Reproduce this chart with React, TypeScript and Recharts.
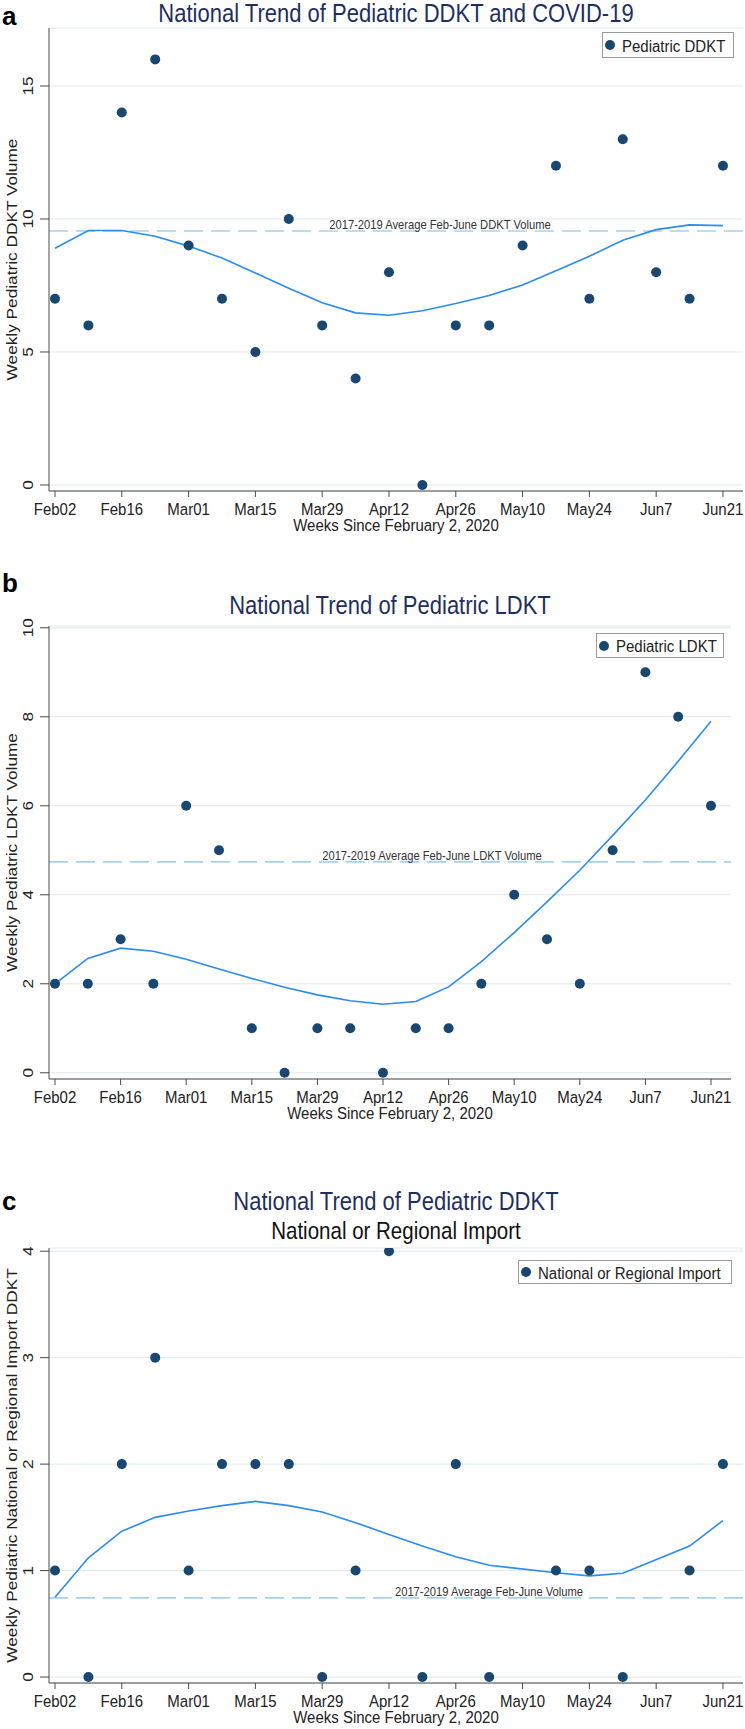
import React from 'react';
import { ComposedChart, Scatter, Line, XAxis, YAxis, CartesianGrid, ReferenceLine } from 'recharts';

const FONT = '"Liberation Sans", Arial, Helvetica, sans-serif';
const NAVY = '#1a476f';
const FIT = '#2a8bf2';
const REF = '#a6d2ea';
const GRID = '#dde8ee';
const AXIS = '#4a4a4a';
const TITLE = '#1e2f5f';
const STRETCH = 1.15;

// weeks since Feb 2, 2020
const weeks = [0, 1, 2, 3, 4, 5, 6, 7, 8, 9, 10, 11, 12, 13, 14, 15, 16, 17, 18, 19, 20];
const xTickWeeks = [0, 2, 4, 6, 8, 10, 12, 14, 16, 18, 20];
const xTickLabels = ['Feb02', 'Feb16', 'Mar01', 'Mar15', 'Mar29', 'Apr12', 'Apr26', 'May10', 'May24', 'Jun7', 'Jun21'];

// Panel a: pediatric DDKT
const ddktObserved = [7, 6, 14, 16, 9, 7, 5, 10, 6, 4, 8, 0, 6, 6, 9, 12, 7, 13, 8, 7, 12];
const ddktFitted = [8.9, 9.57, 9.57, 9.35, 8.98, 8.53, 7.97, 7.4, 6.85, 6.47, 6.38, 6.55, 6.82, 7.12, 7.52, 8.05, 8.6, 9.2, 9.6, 9.78, 9.75];
const ddktAverage = 9.55;
const ddktTicks = [0, 5, 10, 15];

// Panel b: pediatric LDKT
const ldktObserved = [2, 2, 3, 2, 6, 5, 1, 0, 1, 1, 0, 1, 1, 2, 4, 3, 2, 5, 9, 8, 6];
const ldktFitted = [2.0, 2.57, 2.8, 2.73, 2.55, 2.33, 2.12, 1.92, 1.75, 1.62, 1.54, 1.6, 1.93, 2.5, 3.15, 3.84, 4.55, 5.33, 6.13, 7.0, 7.9];
const ldktAverage = 4.74;
const ldktTicks = [0, 2, 4, 6, 8, 10];

// Panel c: national or regional import
const importObserved = [1, 0, 2, 3, 1, 2, 2, 2, 0, 1, 4, 0, 2, 0, null, 1, 1, 0, null, 1, 2];
const importFitted = [0.75, 1.12, 1.37, 1.5, 1.56, 1.61, 1.65, 1.61, 1.55, 1.45, 1.34, 1.23, 1.13, 1.05, null, 0.98, 0.95, 0.975, null, 1.23, 1.47];
const importAverage = 0.744;
const importTicks = [0, 1, 2, 3, 4];

type PanelProps = {
  top: number;
  height: number;
  marginTop: number;
  marginRight: number;
  marginBottom: number;
  xAxisHeight: number;
  xDomain: [number, number];
  yDomain: [number, number];
  yTicks: number[];
  observed: (number | null)[];
  fitted: (number | null)[];
  average: number;
  refLabel: string;
  refLabelX: number;
  yTitle: string;
  legendLabel: string;
  legendBox: { left: number; top: number; width: number; height: number };
};

const Dot = (props: any) => {
  const { cx, cy } = props;
  if (cx == null || cy == null || isNaN(cx) || isNaN(cy)) return null;
  return <circle cx={cx} cy={cy} r={5} fill={NAVY} />;
};

const HText = ({ x, y, size, children, anchor = 'middle', fill = '#222', baseline = 'central' }: any) => (
  <text
    x={0}
    y={0}
    transform={`translate(${x} ${y}) scale(1 ${STRETCH})`}
    textAnchor={anchor}
    dominantBaseline={baseline}
    fontSize={size}
    fill={fill}
    fontFamily={FONT}
  >
    {children}
  </text>
);

const VText = ({ x, y, size, children }: any) => (
  <text
    x={0}
    y={0}
    transform={`translate(${x} ${y}) rotate(-90) scale(${STRETCH} 1)`}
    textAnchor="middle"
    dominantBaseline="central"
    fontSize={size}
    fill="#222"
    fontFamily={FONT}
  >
    {children}
  </text>
);

function Panel(p: PanelProps) {
  const points = weeks
    .map((w, i) => ({ week: w, value: p.observed[i] }))
    .filter((d) => d.value != null);
  const fit = weeks.map((w, i) => ({ week: w, fit: p.fitted[i] }));

  const XTick = (props: any) => {
    const { x, y, payload } = props;
    const idx = xTickWeeks.indexOf(payload.value);
    return <HText x={x} y={y + 12} size={15}>{xTickLabels[idx]}</HText>;
  };
  const YTick = (props: any) => {
    const { y, payload } = props;
    return <VText x={27} y={y} size={15}>{payload.value}</VText>;
  };

  return (
    <div style={{ position: 'absolute', left: 0, top: p.top, width: 745, height: p.height }}>
      <ComposedChart
        width={745}
        height={p.height}
        margin={{ top: p.marginTop, right: p.marginRight, left: 0, bottom: p.marginBottom }}
      >
        <CartesianGrid horizontal vertical={false} stroke={GRID} strokeWidth={1} />
        <XAxis
          type="number"
          dataKey="week"
          domain={p.xDomain}
          allowDataOverflow
          ticks={xTickWeeks}
          height={p.xAxisHeight}
          tickSize={6}
          tickMargin={0}
          axisLine={{ stroke: AXIS }}
          tickLine={{ stroke: AXIS }}
          tick={XTick}
          label={(lp: any) => {
            const vb = lp.viewBox;
            return (
              <HText x={vb.x + vb.width / 2} y={vb.y + 34} size={15}>
                Weeks Since February 2, 2020
              </HText>
            );
          }}
        />
        <YAxis
          type="number"
          domain={p.yDomain}
          allowDataOverflow
          ticks={p.yTicks}
          width={49}
          tickSize={9}
          tickMargin={0}
          axisLine={{ stroke: AXIS }}
          tickLine={{ stroke: AXIS }}
          tick={YTick}
          label={(lp: any) => {
            const vb = lp.viewBox;
            return (
              <VText x={11} y={vb.y + vb.height / 2} size={15}>
                {p.yTitle}
              </VText>
            );
          }}
        />
        <ReferenceLine
          y={p.average}
          stroke={REF}
          strokeWidth={1.6}
          strokeDasharray="19 8"
          ifOverflow="visible"
          label={(lp: any) => {
            const vb = lp.viewBox;
            return (
              <HText x={p.refLabelX} y={vb.y - 2} size={11.2} fill="#333" baseline="alphabetic">
                {p.refLabel}
              </HText>
            );
          }}
        />
        <Line data={fit} dataKey="fit" type="linear" stroke={FIT} strokeWidth={1.6} dot={false} connectNulls isAnimationActive={false} legendType="none" />
        <Scatter data={points} dataKey="value" fill={NAVY} shape={Dot} isAnimationActive={false} />
      </ComposedChart>
      <div
        style={{
          position: 'absolute',
          boxSizing: 'border-box',
          left: p.legendBox.left,
          top: p.legendBox.top,
          width: p.legendBox.width,
          height: p.legendBox.height,
          border: '1px solid #9a9a9a',
          background: '#fff',
          display: 'flex',
          alignItems: 'center',
          paddingLeft: 2,
          fontFamily: FONT,
          fontSize: 15,
          color: '#222',
        }}
      >
        <span style={{ display: 'inline-block', width: 10, height: 10, borderRadius: 5, background: NAVY, marginRight: 7 }} />
        <span style={{ display: 'inline-block', transform: `scaleY(${STRETCH})` }}>{p.legendLabel}</span>
      </div>
    </div>
  );
}

const Title = ({ text, cx, cy, size, color }: { text: string; cx: number; cy: number; size: number; color: string }) => (
  <div
    style={{
      position: 'absolute',
      left: cx - 350,
      width: 700,
      top: cy - size / 2,
      height: size,
      lineHeight: `${size}px`,
      textAlign: 'center',
      fontSize: size,
      color,
      fontFamily: FONT,
      whiteSpace: 'nowrap',
      transform: `scaleY(${STRETCH})`,
    }}
  >
    {text}
  </div>
);

const Letter = ({ text, cy }: { text: string; cy: number }) => (
  <div
    style={{
      position: 'absolute',
      left: 2,
      top: cy - 14,
      height: 28,
      lineHeight: '28px',
      fontSize: 26,
      fontWeight: 'bold',
      color: '#000',
      fontFamily: FONT,
    }}
  >
    {text}
  </div>
);

export default function App() {
  return (
    <div style={{ position: 'absolute', left: 0, top: 0, width: 745, height: 1729, background: '#fff', overflow: 'hidden' }}>
      <Panel
        top={0}
        height={548}
        marginTop={28}
        marginRight={2}
        marginBottom={18}
        xAxisHeight={39}
        xDomain={[-0.18, 20.6]}
        yDomain={[-0.226, 17.18]}
        yTicks={ddktTicks}
        observed={ddktObserved}
        fitted={ddktFitted}
        average={ddktAverage}
        refLabel="2017-2019 Average Feb-June DDKT Volume"
        refLabelX={440}
        yTitle="Weekly Pediatric DDKT Volume"
        legendLabel="Pediatric DDKT"
        legendBox={{ left: 602, top: 32, width: 132, height: 26 }}
      />
      <Panel
        top={560}
        height={580}
        marginTop={66}
        marginRight={14}
        marginBottom={20}
        xAxisHeight={41}
        xDomain={[-0.183, 20.61]}
        yDomain={[-0.14, 10.04]}
        yTicks={ldktTicks}
        observed={ldktObserved}
        fitted={ldktFitted}
        average={ldktAverage}
        refLabel="2017-2019 Average Feb-June LDKT Volume"
        refLabelX={432}
        yTitle="Weekly Pediatric LDKT Volume"
        legendLabel="Pediatric LDKT"
        legendBox={{ left: 596, top: 73, width: 128, height: 25 }}
      />
      <Panel
        top={1150}
        height={579}
        marginTop={98}
        marginRight={2}
        marginBottom={0}
        xAxisHeight={46}
        xDomain={[-0.18, 20.6]}
        yDomain={[-0.056, 4.03]}
        yTicks={importTicks}
        observed={importObserved}
        fitted={importFitted}
        average={importAverage}
        refLabel="2017-2019 Average Feb-June Volume"
        refLabelX={489}
        yTitle="Weekly Pediatric National or Regional Import DDKT"
        legendLabel="National or Regional Import"
        legendBox={{ left: 518, top: 110, width: 214, height: 24 }}
      />
      <Letter text="a" cy={16} />
      <Title text="National Trend of Pediatric DDKT and COVID-19" cx={396} cy={14} size={22} color={TITLE} />
      <Letter text="b" cy={583} />
      <Title text="National Trend of Pediatric LDKT" cx={390} cy={606} size={22} color={TITLE} />
      <Letter text="c" cy={1201} />
      <Title text="National Trend of Pediatric DDKT" cx={396} cy={1202} size={22} color={TITLE} />
      <Title text="National or Regional Import" cx={396} cy={1231} size={20.5} color="#111" />
    </div>
  );
}
